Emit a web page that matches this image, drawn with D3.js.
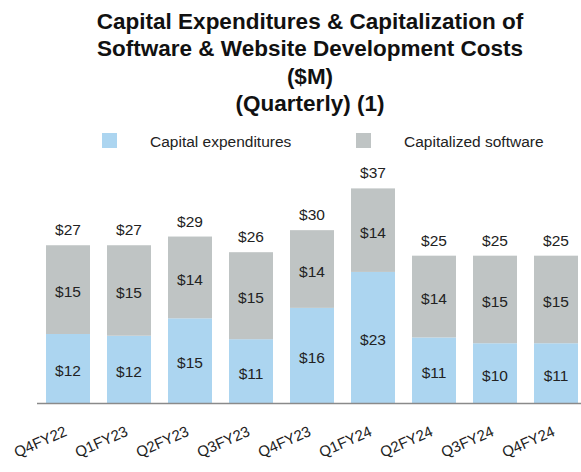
<!DOCTYPE html>
<html>
<head>
<meta charset="utf-8">
<script src="https://cdn.jsdelivr.net/npm/d3@7"></script>
<style type="text/css">
	body {
		margin: 0;
		background: #fff;
		font-family: "Liberation Sans", Arial, sans-serif;
	}
</style>
</head>
<body>
<div id="chart"></div>
<script>

// quarters on the x axis
var quarters = ["Q4FY22", "Q1FY23", "Q2FY23", "Q3FY23", "Q4FY23", "Q1FY24", "Q2FY24", "Q3FY24", "Q4FY24"];

// bar heights ($M)
var capex = [11.9, 11.6, 14.6, 11.0, 16.4, 22.6, 11.3, 10.3, 10.3];
var software = [15.3, 15.6, 14.1, 15.0, 13.4, 14.4, 14.1, 15.1, 15.1];

// labels as printed on the slide
var capexLabels = [12, 12, 15, 11, 16, 23, 11, 10, 11];
var softwareLabels = [15, 15, 14, 15, 14, 14, 14, 15, 15];
var totalLabels = [27, 27, 29, 26, 30, 37, 25, 25, 25];

var titleLines = ["Capital Expenditures & Capitalization of", "Software & Website Development Costs", "($M)", "(Quarterly) (1)"];
var seriesNames = ["Capital expenditures", "Capitalized software"];
var colors = ["#acd5f0", "#bfc4c4"];

var W = 581, H = 472;
var baseY = 403;

var svg = d3.select("#chart").append("svg")
	.attr("width", W)
	.attr("height", H);

// titre
svg.append("g").selectAll("text")
	.data(titleLines)
	.enter().append("text")
	.attr("x", 310)
	.attr("y", function (d, i) { return 29 + i * 27.3; })
	.attr("text-anchor", "middle")
	.attr("font-size", "22.5px")
	.attr("font-weight", "bold")
	.attr("fill", "#111")
	.text(function (d) { return d; });

// legende
var legendX = [102, 356];
var leg = svg.append("g").selectAll("g")
	.data(seriesNames)
	.enter().append("g")
	.attr("transform", function (d, i) { return "translate(" + legendX[i] + ",133)"; });
leg.append("rect")
	.attr("width", 15)
	.attr("height", 15)
	.attr("fill", function (d, i) { return colors[i]; });
leg.append("text")
	.attr("x", 48)
	.attr("y", 14)
	.attr("font-size", "15.5px")
	.attr("fill", "#222")
	.text(function (d) { return d; });

// scales
var x = d3.scaleBand()
	.domain(quarters)
	.range([36, 588])
	.paddingInner(17 / 61)
	.paddingOuter(10 / 61);

var y = d3.scaleLinear()
	.domain([0, 37])
	.range([baseY, baseY - 37 * 5.8]);

var stack = d3.stack().keys([0, 1]);
var rows = quarters.map(function (q, i) { return [capex[i], software[i]]; });
var layers = stack(rows);
var segLabels = [capexLabels, softwareLabels];

var g = svg.append("g");

layers.forEach(function (layer, k) {
	g.selectAll(".seg" + k)
		.data(layer)
		.enter().append("rect")
		.attr("class", "seg" + k)
		.attr("x", function (d, i) { return x(quarters[i]); })
		.attr("y", function (d) { return y(d[1]); })
		.attr("width", x.bandwidth())
		.attr("height", function (d) { return y(d[0]) - y(d[1]); })
		.attr("fill", colors[k]);

	g.selectAll(".lab" + k)
		.data(layer)
		.enter().append("text")
		.attr("class", "lab" + k)
		.attr("x", function (d, i) { return x(quarters[i]) + x.bandwidth() / 2; })
		.attr("y", function (d) { return (y(d[0]) + y(d[1])) / 2 + 2; })
		.attr("text-anchor", "middle")
		.attr("dominant-baseline", "central")
		.attr("font-size", "15.5px")
		.attr("fill", "#222")
		.text(function (d, i) { return "$" + segLabels[k][i]; });
});

// totaux
g.selectAll(".tot")
	.data(layers[1])
	.enter().append("text")
	.attr("class", "tot")
	.attr("x", function (d, i) { return x(quarters[i]) + x.bandwidth() / 2; })
	.attr("y", function (d) { return y(d[1]) - 10; })
	.attr("text-anchor", "middle")
	.attr("font-size", "15.5px")
	.attr("fill", "#222")
	.text(function (d, i) { return "$" + totalLabels[i]; });

// axe
svg.append("line")
	.attr("x1", 37)
	.attr("x2", W)
	.attr("y1", baseY + 0.5)
	.attr("y2", baseY + 0.5)
	.attr("stroke", "#8a8a8a")
	.attr("stroke-width", 1.5);

svg.append("g").selectAll("text")
	.data(quarters)
	.enter().append("text")
	.attr("transform", function (d) { return "translate(" + (x(d) + x.bandwidth() / 2) + ",435) rotate(-24)"; })
	.attr("text-anchor", "end")
	.attr("font-size", "15px")
	.attr("fill", "#222")
	.text(function (d) { return d; });

</script>
</body>
</html>
